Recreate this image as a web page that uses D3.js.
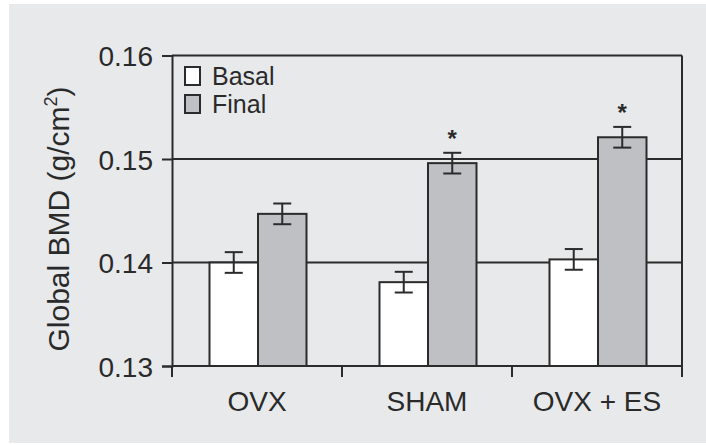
<!DOCTYPE html>
<html><head><meta charset="utf-8">
<script src="https://cdn.jsdelivr.net/npm/d3@7"></script>
<style>
html,body{margin:0;padding:0;background:#ffffff;}
svg{display:block;}
text{font-family:"Liberation Sans",Arial,Helvetica,sans-serif;fill:#2a2a2a;}
</style></head>
<body>
<svg id="chart" width="706" height="445"></svg>
<script>
const categories = ["OVX", "SHAM", "OVX + ES"];
const series = ["Basal", "Final"];
const basalValues = [0.1400, 0.1381, 0.1403];
const finalValues = [0.1447, 0.1496, 0.1521];
const basalErrors = [0.0010, 0.0010, 0.0010];
const finalErrors = [0.0010, 0.0010, 0.0010];
const significant = [false, true, true]; // * on Final
const yTicks = [0.13, 0.14, 0.15, 0.16];

(function () {
const svg = d3.select("#chart");
const ink = "#2b2b2b";
const fills = {Basal: "#ffffff", Final: "#bfc0c4"};

svg.append("rect").attr("x", 9).attr("y", 4).attr("width", 697).attr("height", 439).attr("fill", "#e8e9eb");

const pLeft = 172, pRight = 682, pTop = 55.5, pBottom = 366;
const y = d3.scaleLinear().domain([0.13, 0.16]).range([pBottom, pTop]);
const x0 = d3.scaleBand().domain(categories).range([pLeft, pRight]).padding(0);
const bw = x0.bandwidth();
const x1 = d3.scaleBand().domain(series).range([bw / 2 - 47.5, bw / 2 + 49.5]).padding(0);

const data = categories.map((c, i) => ({
  cat: c,
  vals: [
    {s: "Basal", v: basalValues[i], e: basalErrors[i], star: false},
    {s: "Final", v: finalValues[i], e: finalErrors[i], star: significant[i]}
  ]
}));

// grid lines at inner ticks + top border
svg.append("g").selectAll("line").data(yTicks.filter(t => t > 0.13))
  .join("line")
  .attr("x1", pLeft).attr("x2", pRight)
  .attr("y1", d => y(d)).attr("y2", d => y(d))
  .attr("stroke", ink).attr("stroke-width", 2);
// right border
svg.append("line").attr("x1", pRight).attr("x2", pRight).attr("y1", y(0.16)).attr("y2", pBottom + 11)
  .attr("stroke", ink).attr("stroke-width", 2);

// bars
const g = svg.append("g").selectAll("g").data(data).join("g")
  .attr("transform", d => `translate(${x0(d.cat)},0)`);
g.selectAll("rect").data(d => d.vals).join("rect")
  .attr("x", d => x1(d.s)).attr("width", x1.bandwidth())
  .attr("y", d => y(d.v)).attr("height", d => pBottom - y(d.v))
  .attr("fill", d => fills[d.s]).attr("stroke", ink).attr("stroke-width", 2);

// error bars
const eb = g.selectAll("g.err").data(d => d.vals).join("g").attr("class", "err");
eb.append("line")
  .attr("x1", d => x1(d.s) + x1.bandwidth() / 2).attr("x2", d => x1(d.s) + x1.bandwidth() / 2)
  .attr("y1", d => y(d.v + d.e)).attr("y2", d => y(d.v - d.e))
  .attr("stroke", ink).attr("stroke-width", 2);
eb.selectAll("line.cap").data(d => [{d, t: d.v + d.e}, {d, t: d.v - d.e}]).join("line").attr("class", "cap")
  .attr("x1", o => x1(o.d.s) + x1.bandwidth() / 2 - 9).attr("x2", o => x1(o.d.s) + x1.bandwidth() / 2 + 9)
  .attr("y1", o => y(o.t)).attr("y2", o => y(o.t))
  .attr("stroke", ink).attr("stroke-width", 2);
eb.filter(d => d.star).append("text")
  .attr("x", d => x1(d.s) + x1.bandwidth() / 2)
  .attr("y", d => y(d.v + d.e) - 6)
  .attr("text-anchor", "middle").attr("font-size", 24).attr("font-weight", "bold")
  .text("*");

// y axis
const yAxis = d3.axisLeft(y).tickValues(yTicks).tickFormat(d3.format(".2f")).tickSize(10).tickPadding(9);
const ya = svg.append("g").attr("transform", `translate(${pLeft},0)`).call(yAxis);
ya.select(".domain").attr("stroke", ink).attr("stroke-width", 2);
ya.selectAll(".tick line").attr("stroke", ink).attr("stroke-width", 2);
ya.selectAll(".tick text").attr("font-size", 28).attr("fill", "#2a2a2a").attr("dy", "0.36em")
  .attr("font-family", "'Liberation Sans',Arial,sans-serif");

// bottom axis line and band-boundary ticks
svg.append("line").attr("x1", pLeft).attr("x2", pRight).attr("y1", pBottom).attr("y2", pBottom)
  .attr("stroke", ink).attr("stroke-width", 2);
const bounds = categories.map(c => x0(c)).concat([pRight]);
svg.append("g").selectAll("line").data(bounds).join("line")
  .attr("x1", d => d).attr("x2", d => d).attr("y1", pBottom).attr("y2", pBottom + 11)
  .attr("stroke", ink).attr("stroke-width", 2);
svg.append("g").selectAll("text").data(categories).join("text")
  .attr("x", d => x0(d) + bw / 2).attr("y", 410.5)
  .attr("text-anchor", "middle").attr("font-size", 28).text(d => d);

// y label
const yl = svg.append("text").attr("transform", "translate(69,219) rotate(-90)")
  .attr("text-anchor", "middle").attr("font-size", 30);
yl.append("tspan").text("Global BMD (g/cm");
yl.append("tspan").attr("font-size", 18).attr("dy", -12).text("2");
yl.append("tspan").attr("dy", 12).text(")");

// legend
const legend = svg.append("g").selectAll("g").data(series).join("g")
  .attr("transform", (d, i) => `translate(185,${67 + i * 28})`);
legend.append("rect").attr("width", 15).attr("height", 18)
  .attr("fill", d => fills[d]).attr("stroke", ink).attr("stroke-width", 2);
legend.append("text").attr("x", 27).attr("y", 18).attr("font-size", 25).text(d => d);
})();
</script>
</body></html>
